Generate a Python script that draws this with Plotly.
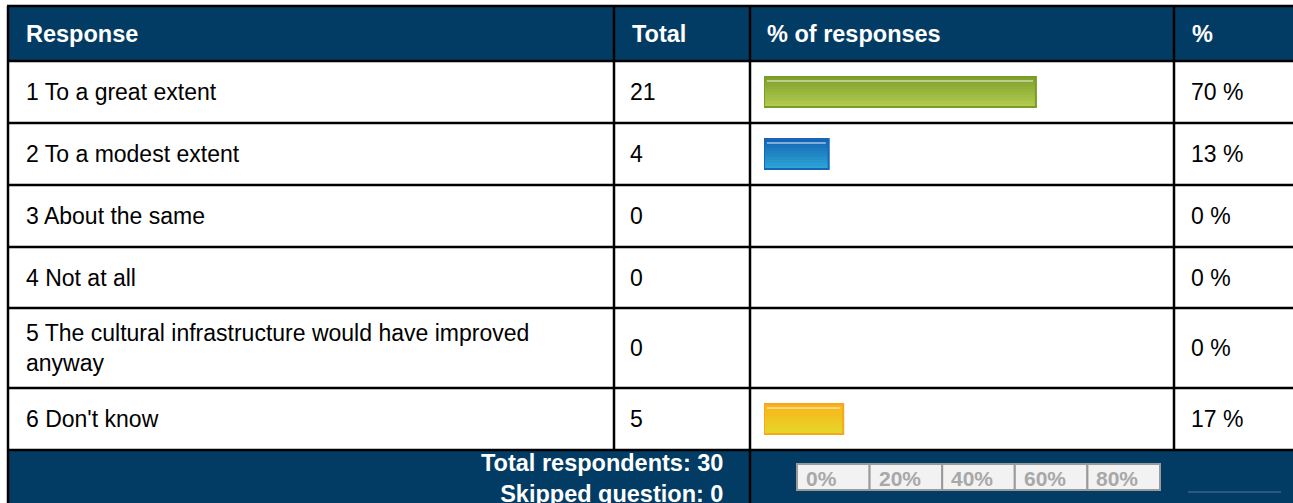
import plotly.graph_objects as go

# ---------------------------------------------------------------------------
# data
responses = ["1 To a great extent", "2 To a modest extent", "3 About the same",
             "4 Not at all",
             "5 The cultural infrastructure would have improved<br>anyway",
             "6 Don't know"]
totals = [21, 4, 0, 0, 0, 5]
percents = [70, 13, 0, 0, 0, 17]
headers = ["Response", "Total", "% of responses", "%"]
scale_labels = ["0%", "20%", "40%", "60%", "80%"]
total_respondents = 30
skipped = 0

# bar colours (top of gradient, bottom of gradient, border)
bar_top = ["#80a12c", "#1466b4", "#f8b018", "", "", "#f8b418"]
bar_bottom = ["#b2ca4e", "#2ca4d4", "#e6d62a", "", "", "#e6d62a"]
bar_line = ["#7a9b26", "#1565b8", "#f6a81a", "", "", "#f6a81a"]

# ---------------------------------------------------------------------------
# layout geometry (pixels)
W, H = 1293, 503
col_x = [8, 614, 750, 1174, W]
row_y = [6, 61, 123, 185, 247, 308, 388, 450, H]
HEAD = "#023c64"
FONT = "Liberation Sans, Arial, sans-serif"
BAR_H = 30
BAR_BASE = -4.8      # minimum stub width used by the original renderer
PX_PER_PCT = 3.635


def mix(c1, c2, t):
    a = [int(c1[i:i + 2], 16) for i in (1, 3, 5)]
    b = [int(c2[i:i + 2], 16) for i in (1, 3, 5)]
    return "#%02x%02x%02x" % tuple(round(a[k] + (b[k] - a[k]) * t) for k in range(3))


fig = go.Figure()

shapes = []
annotations = []

# header and footer fills
shapes.append(dict(type="rect", xref="x2", yref="y", x0=col_x[0], x1=W,
                   y0=row_y[0], y1=row_y[1], fillcolor=HEAD, line_width=0, layer="below"))
shapes.append(dict(type="rect", xref="x2", yref="y", x0=col_x[0], x1=W,
                   y0=row_y[7], y1=H + 5, fillcolor=HEAD, line_width=0, layer="below"))

# grid lines
for y in row_y[:-1]:
    shapes.append(dict(type="line", xref="x2", yref="y", x0=col_x[0] - 1, x1=W,
                       y0=y, y1=y, line=dict(color="black", width=2.5)))
for x in col_x[:4]:
    shapes.append(dict(type="line", xref="x2", yref="y", x0=x, x1=x,
                       y0=row_y[0], y1=row_y[7], line=dict(color="black", width=2.5)))
for x in (col_x[0], col_x[2]):
    shapes.append(dict(type="line", xref="x2", yref="y", x0=x, x1=x,
                       y0=row_y[7], y1=H + 5, line=dict(color="black", width=2.5)))

# header text
head_x = [24, 630, 765, 1190]
for hx, txt in zip(head_x, headers):
    annotations.append(dict(xref="x2", yref="y", x=hx, y=(row_y[0] + row_y[1]) / 2,
                            text="<b>%s</b>" % txt, showarrow=False, xanchor="left",
                            yanchor="middle", font=dict(family=FONT, size=23.5, color="white")))

# body text
for i, (resp, tot, pct) in enumerate(zip(responses, totals, percents)):
    yc = (row_y[i + 1] + row_y[i + 2]) / 2
    for hx, txt in ((24, resp), (628, str(tot)), (1189, "%d %%" % pct)):
        annotations.append(dict(xref="x2", yref="y", x=hx, y=yc, text=txt, showarrow=False,
                                xanchor="left", yanchor="middle", align="left",
                                font=dict(family=FONT, size=23, color="black")))

# footer
annotations.append(dict(xref="x2", yref="y", x=725, y=478,
                        text="<b>Total respondents: %d<br>Skipped question: %d</b>"
                        % (total_respondents, skipped),
                        showarrow=False, xanchor="right", yanchor="middle", align="right",
                        font=dict(family=FONT, size=23.5, color="white")))

# scale box in the footer
sx0, sw = 797, 72.6
for k, lab in enumerate(scale_labels):
    shapes.append(dict(type="rect", xref="x2", yref="y", x0=sx0 + k * sw, x1=sx0 + (k + 1) * sw,
                       y0=464, y1=490, fillcolor="#f2f2f2",
                       line=dict(color="#9a9a9a", width=2)))
    annotations.append(dict(xref="x2", yref="y", x=sx0 + k * sw + 7, y=478, text="<b>%s</b>" % lab,
                            showarrow=False, xanchor="left", yanchor="middle",
                            font=dict(family=FONT, size=21, color="#a8a8a8")))
shapes.append(dict(type="line", xref="x2", yref="y", x0=1188, x1=1281, y0=492, y1=492,
                   line=dict(color="#56789a", width=1)))

# bars (only rows with a non-zero share are drawn); each bar runs from the
# small stub at BAR_BASE up to its percentage on the x axis
idx = [i for i, p in enumerate(percents) if p > 0]
ys = [(row_y[i + 1] + row_y[i + 2]) / 2 for i in idx]
lengths = [percents[i] - BAR_BASE for i in idx]
n_band = 10
for b in range(n_band):
    t = b / (n_band - 1)
    fig.add_trace(go.Bar(
        x=lengths, y=ys, base=BAR_BASE, orientation="h", width=BAR_H / n_band + 0.4,
        offset=-BAR_H / 2 + b * BAR_H / n_band,
        marker=dict(color=[mix(bar_top[i], bar_bottom[i], t) for i in idx], line_width=0),
        hoverinfo="skip", showlegend=False, xaxis="x", yaxis="y"))
# glossy highlight strip
fig.add_trace(go.Bar(
    x=[v - 1.6 for v in lengths], y=ys, base=BAR_BASE + 0.8, orientation="h", width=2,
    offset=-BAR_H / 2 + 3,
    marker=dict(color="rgba(255,255,255,0.45)", line_width=0),
    hoverinfo="skip", showlegend=False))
# outline
fig.add_trace(go.Bar(
    x=lengths, y=ys, base=BAR_BASE, orientation="h", width=BAR_H,
    marker=dict(color="rgba(0,0,0,0)", line=dict(color=[bar_line[i] for i in idx], width=2)),
    hoverinfo="skip", showlegend=False))

bar_left = 764
bar_right = col_x[3]
fig.update_layout(
    width=W, height=H,
    margin=dict(l=0, r=0, t=0, b=0),
    paper_bgcolor="white", plot_bgcolor="rgba(0,0,0,0)",
    barmode="overlay",
    xaxis=dict(domain=[bar_left / W, bar_right / W],
               range=[BAR_BASE, BAR_BASE + (bar_right - bar_left) / PX_PER_PCT],
               visible=False, fixedrange=True),
    xaxis2=dict(domain=[0, 1], range=[0, W], visible=False, anchor="y", fixedrange=True),
    yaxis=dict(range=[H, 0], visible=False, fixedrange=True),
    shapes=shapes, annotations=annotations,
)

fig.write_html("out.html", config={"displayModeBar": False},
               post_script="document.body.style.margin='0';document.body.style.overflow='hidden';")
